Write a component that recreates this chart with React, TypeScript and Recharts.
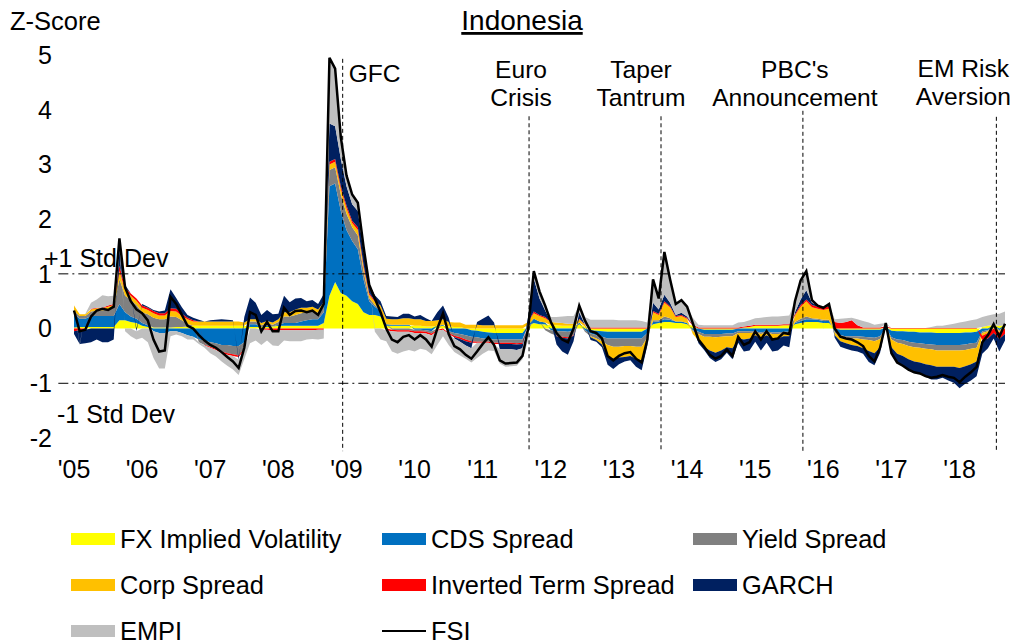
import React from "react";
import { ComposedChart, Area, Line, XAxis, YAxis, ReferenceLine, Legend } from "recharts";

// monthly readings, Jan 2005 .. Sep 2018
const startYear = 2005;

const fsi = [
  0.33, -0.05, -0.02, 0.22, 0.33, 0.36, 0.34, 0.4, 1.65, 0.75, 0.5, 0.35,
  0.28, 0.15, -0.2, -0.42, -0.4, 0.58, 0.45, 0.25, 0.05, 0.0, -0.12, -0.22,
  -0.3, -0.35, -0.43, -0.52, -0.6, -0.72, -0.35, 0.3, 0.25, -0.05, 0.12, -0.05,
  -0.05, 0.38, 0.25, 0.32, 0.33, 0.3, 0.33, 0.25, 0.45, 4.95, 4.75, 3.5,
  2.8, 2.45, 2.3, 1.5, 0.8, 0.55, 0.3, 0.0, -0.2, -0.25, -0.15, -0.12,
  -0.2, -0.12, -0.2, -0.33, 0.0, 0.28, -0.1, -0.32, -0.38, -0.48, -0.55, -0.42,
  -0.28, -0.16, -0.3, -0.58, -0.64, -0.63, -0.62, -0.5, 0.0, 1.05, 0.68, 0.42,
  0.12, -0.08, -0.2, -0.25, 0.0, 0.42, 0.15, -0.05, -0.08, -0.18, -0.5, -0.58,
  -0.5, -0.45, -0.43, -0.55, -0.62, -0.2, 0.9, 0.55, 1.4, 0.9, 0.45, 0.52,
  0.4, 0.1, -0.2, -0.33, -0.48, -0.55, -0.5, -0.38, -0.5, -0.15, -0.3, -0.25,
  -0.05, -0.2, -0.05, -0.2, -0.18, -0.08, -0.1, 0.5, 0.88, 1.05, 0.52, 0.42,
  0.38, 0.45, 0.0, -0.15, -0.18, -0.2, -0.25, -0.32, -0.5, -0.6, -0.35, 0.1,
  -0.45, -0.62, -0.68, -0.75, -0.8, -0.82, -0.87, -0.9, -0.88, -0.85, -0.88, -0.9,
  -0.98, -0.88, -0.8, -0.7, -0.25, -0.12, 0.08, -0.15, 0.09,
];

const fxVol = [
  0.02, 0.03, 0.03, 0.03, 0.03, 0.03, 0.03, 0.03, 0.15, 0.15, 0.12, 0.1,
  0.05, 0.03, 0.02, 0.02, 0.02, 0.02, 0.03, 0.03, 0.04, 0.05, 0.05, 0.05,
  0.05, 0.05, 0.05, 0.05, 0.05, 0.05, 0.05, 0.03, 0.03, 0.03, 0.03, 0.04,
  0.05, 0.05, 0.05, 0.05, 0.05, 0.05, 0.05, 0.05, 0.1, 0.6, 0.85, 0.65,
  0.6, 0.5, 0.45, 0.3, 0.25, 0.25, 0.22, 0.05, 0.05, 0.05, 0.05, 0.05,
  0.05, 0.05, 0.04, 0.04, 0.05, 0.05, 0.04, 0.03, 0.03, 0.0, -0.03, -0.04,
  -0.06, -0.07, -0.08, -0.08, -0.08, -0.08, -0.08, -0.08, 0.05, 0.1, 0.08, 0.08,
  0.06, 0.06, 0.05, 0.05, 0.05, 0.08, 0.04, -0.03, -0.04, -0.05, -0.06, -0.06,
  -0.06, -0.06, -0.06, -0.06, -0.06, 0.0, 0.08, 0.1, 0.12, 0.12, 0.1, 0.1,
  0.08, 0.05, 0.0, -0.02, -0.02, -0.02, -0.02, -0.02, -0.02, 0.0, 0.02, 0.03,
  0.05, 0.05, 0.05, 0.05, 0.05, 0.06, 0.06, 0.08, 0.1, 0.12, 0.12, 0.12,
  0.1, 0.1, 0.0, -0.02, -0.02, -0.02, -0.02, -0.02, -0.02, -0.02, -0.02, 0.02,
  -0.04, -0.05, -0.05, -0.06, -0.06, -0.07, -0.07, -0.07, -0.08, -0.08, -0.08, -0.08,
  -0.08, -0.07, -0.07, -0.06, 0.03, 0.05, 0.06, 0.05, 0.06,
];

const cds = [
  0.25, 0.15, 0.15, 0.2, 0.2, 0.2, 0.2, 0.2, 0.3, 0.15, 0.1, 0.08,
  0.05, 0.03, -0.05, -0.08, -0.08, -0.05, -0.05, -0.08, -0.12, -0.15, -0.2, -0.22,
  -0.25, -0.27, -0.3, -0.3, -0.32, -0.32, -0.25, 0.05, 0.05, 0.0, 0.02, 0.0,
  0.02, 0.05, 0.05, 0.05, 0.08, 0.1, 0.12, 0.12, 0.2, 2.0, 1.8, 1.5,
  1.2, 1.1, 1.0, 0.6, 0.25, 0.15, 0.1, 0.03, 0.02, 0.02, 0.02, 0.02,
  -0.02, -0.02, -0.03, -0.05, 0.0, 0.02, -0.05, -0.08, -0.1, -0.12, -0.12, -0.12,
  -0.12, -0.12, -0.12, -0.12, -0.12, -0.12, -0.12, -0.12, 0.02, 0.08, 0.05, 0.03,
  -0.03, -0.05, -0.05, -0.06, -0.04, 0.03, -0.03, -0.06, -0.08, -0.1, -0.12, -0.12,
  -0.12, -0.12, -0.12, -0.12, -0.12, -0.08, 0.04, 0.03, 0.05, 0.04, 0.03, 0.03,
  0.02, -0.03, -0.06, -0.08, -0.08, -0.08, -0.08, -0.07, -0.07, -0.05, -0.05, -0.05,
  -0.05, -0.07, -0.05, -0.07, -0.07, -0.06, -0.06, 0.02, 0.04, 0.05, 0.05, 0.04,
  0.04, 0.04, -0.05, -0.1, -0.12, -0.12, -0.12, -0.13, -0.14, -0.15, -0.12, 0.0,
  -0.12, -0.15, -0.16, -0.18, -0.2, -0.2, -0.21, -0.22, -0.22, -0.22, -0.22, -0.22,
  -0.22, -0.22, -0.2, -0.2, -0.05, -0.03, 0.0, -0.03, 0.0,
];

const yieldSpread = [
  0.05, 0.05, 0.05, 0.08, 0.1, 0.1, 0.12, 0.15, 0.45, 0.3, 0.3, 0.25,
  0.2, 0.2, 0.18, 0.15, 0.15, 0.2, 0.18, 0.12, 0.05, 0.0, -0.05, -0.08,
  -0.08, -0.1, -0.12, -0.15, -0.15, -0.17, -0.12, 0.05, 0.05, 0.03, 0.05, 0.03,
  0.05, 0.12, 0.12, 0.15, 0.15, 0.15, 0.15, 0.12, 0.12, 0.3, 0.3, 0.3,
  0.3, 0.25, 0.25, 0.15, 0.06, 0.03, 0.02, 0.0, -0.02, -0.03, -0.03, -0.03,
  -0.03, -0.03, -0.03, -0.04, -0.02, 0.0, -0.03, -0.05, -0.06, -0.08, -0.08, -0.08,
  -0.06, -0.05, -0.06, -0.06, -0.06, -0.06, -0.07, -0.06, -0.05, 0.0, 0.0, -0.03,
  -0.06, -0.08, -0.1, -0.1, -0.08, 0.0, -0.03, -0.05, -0.06, -0.08, -0.12, -0.15,
  -0.15, -0.14, -0.14, -0.15, -0.15, -0.08, 0.03, 0.02, 0.05, 0.03, 0.0, 0.0,
  0.0, -0.02, -0.04, -0.05, -0.05, -0.06, -0.05, -0.05, -0.05, -0.03, -0.03, -0.03,
  -0.02, -0.03, -0.02, -0.03, -0.03, -0.03, -0.03, 0.02, 0.04, 0.05, 0.02, 0.02,
  0.02, 0.02, -0.02, -0.03, -0.03, -0.04, -0.04, -0.05, -0.05, -0.06, -0.05, 0.0,
  -0.04, -0.06, -0.07, -0.08, -0.08, -0.08, -0.09, -0.09, -0.1, -0.1, -0.1, -0.1,
  -0.1, -0.1, -0.1, -0.09, -0.03, -0.02, 0.0, -0.02, 0.0,
];

const corpSpread = [
  0.1, 0.03, 0.03, 0.04, 0.04, 0.04, 0.05, 0.05, 0.15, 0.1, 0.08, 0.08,
  0.08, 0.08, 0.08, 0.07, 0.07, 0.1, 0.1, 0.08, 0.08, 0.08, 0.08, 0.08,
  0.08, 0.08, 0.08, 0.08, 0.08, 0.08, 0.06, 0.04, 0.04, 0.04, 0.04, 0.04,
  0.05, 0.08, 0.08, 0.1, 0.1, 0.08, 0.08, 0.06, 0.06, 0.1, 0.1, 0.1,
  0.1, 0.08, 0.1, 0.08, 0.06, 0.06, 0.08, 0.1, 0.1, 0.1, 0.12, 0.12,
  0.12, 0.12, 0.1, 0.1, 0.1, 0.1, 0.08, 0.08, 0.08, 0.07, 0.07, 0.07,
  0.06, 0.06, 0.06, 0.06, 0.06, 0.06, 0.06, 0.06, 0.05, 0.1, 0.1, 0.08,
  0.06, 0.05, 0.05, 0.04, 0.04, 0.06, 0.03, -0.02, -0.03, -0.06, -0.2, -0.22,
  -0.2, -0.2, -0.18, -0.22, -0.25, -0.1, 0.15, 0.1, 0.25, 0.2, 0.08, 0.1,
  0.08, -0.05, -0.12, -0.18, -0.25, -0.28, -0.25, -0.2, -0.22, -0.1, -0.12, -0.1,
  -0.05, -0.08, -0.05, -0.08, -0.08, -0.05, -0.05, 0.12, 0.22, 0.28, 0.2, 0.18,
  0.18, 0.2, -0.05, -0.08, -0.1, -0.12, -0.14, -0.16, -0.2, -0.22, -0.15, 0.0,
  -0.14, -0.2, -0.22, -0.24, -0.26, -0.27, -0.28, -0.29, -0.3, -0.3, -0.3, -0.3,
  -0.32, -0.3, -0.28, -0.25, -0.05, -0.03, 0.0, -0.02, 0.0,
];

const invertedTerm = [
  -0.05, -0.03, -0.02, 0.01, 0.01, 0.01, 0.02, 0.02, 0.1, 0.05, 0.04, 0.04,
  0.04, 0.04, 0.04, 0.04, 0.04, 0.05, 0.05, 0.04, 0.03, 0.02, 0.0, -0.01,
  -0.02, -0.02, -0.03, -0.03, -0.03, -0.03, -0.02, 0.0, 0.0, -0.02, -0.02, -0.03,
  -0.03, -0.03, -0.03, -0.03, -0.03, -0.03, -0.03, -0.02, -0.02, 0.05, 0.05, 0.05,
  0.05, 0.04, 0.05, 0.04, 0.03, 0.02, 0.0, -0.03, -0.03, -0.03, -0.03, -0.03,
  -0.03, -0.03, -0.03, -0.03, -0.02, -0.02, -0.02, -0.03, -0.03, -0.03, -0.03, -0.02,
  -0.02, -0.02, -0.02, -0.02, -0.02, -0.02, -0.02, -0.02, 0.0, 0.03, 0.02, 0.02,
  0.0, -0.01, -0.02, -0.02, -0.01, 0.01, 0.01, 0.02, 0.02, 0.02, 0.02, 0.02,
  0.02, 0.02, 0.02, 0.02, 0.02, 0.02, 0.02, 0.02, 0.03, 0.02, 0.02, 0.02,
  0.02, 0.02, 0.02, 0.02, 0.02, 0.02, 0.02, 0.02, 0.02, 0.02, 0.02, 0.02,
  0.02, 0.02, 0.02, 0.02, 0.02, 0.02, 0.02, 0.02, 0.03, 0.03, 0.04, 0.04,
  0.05, 0.05, 0.12, 0.1, 0.12, 0.15, 0.06, 0.02, 0.02, 0.02, 0.02, 0.02,
  0.01, 0.01, 0.01, 0.01, 0.01, 0.01, 0.01, 0.01, 0.01, 0.01, 0.01, 0.01,
  0.01, 0.01, 0.01, 0.01, -0.08, -0.1, -0.08, -0.12, -0.1,
];

const garch = [
  -0.05, -0.25, -0.25, -0.25, -0.2, -0.25, -0.25, -0.2, 0.3, 0.05, 0.0, -0.05,
  0.03, 0.02, 0.02, 0.03, 0.05, 0.35, 0.2, 0.12, 0.05, 0.05, 0.03, 0.0,
  0.02, 0.03, 0.04, 0.03, 0.02, -0.05, 0.1, 0.4, 0.3, 0.15, 0.2, 0.15,
  0.1, 0.3, 0.18, 0.2, 0.18, 0.12, 0.12, 0.1, 0.15, 0.7, 0.6, 0.5,
  0.35, 0.3, 0.3, 0.25, 0.15, 0.1, 0.08, 0.05, 0.05, 0.04, 0.08, 0.08,
  0.05, 0.08, 0.05, 0.0, 0.15, 0.25, 0.08, -0.02, -0.05, -0.08, -0.1, 0.05,
  0.12, 0.18, 0.05, -0.1, -0.1, -0.1, -0.1, -0.08, 0.1, 0.6, 0.3, 0.12,
  0.0, -0.15, -0.25, -0.3, -0.1, 0.12, 0.0, -0.05, -0.03, -0.05, -0.16, -0.19,
  -0.12, -0.08, -0.08, -0.15, -0.18, -0.05, 0.15, 0.08, 0.12, 0.06, 0.02, 0.04,
  0.02, 0.0, -0.05, -0.06, -0.14, -0.17, -0.16, -0.1, -0.2, -0.08, -0.22, -0.22,
  -0.12, -0.22, -0.14, -0.24, -0.22, -0.17, -0.2, 0.04, 0.1, 0.17, 0.04, 0.02,
  0.0, 0.04, -0.05, -0.1, -0.1, -0.1, -0.1, -0.1, -0.2, -0.22, -0.1, 0.04,
  -0.12, -0.17, -0.19, -0.2, -0.21, -0.21, -0.23, -0.26, -0.23, -0.2, -0.25, -0.29,
  -0.37, -0.32, -0.3, -0.27, -0.25, -0.18, -0.1, -0.23, -0.12,
];

const empi = [
  0.01, -0.03, 0.01, 0.11, 0.15, 0.23, 0.17, 0.15, 0.2, -0.05, -0.14, -0.15,
  -0.17, -0.25, -0.49, -0.65, -0.65, -0.09, -0.06, -0.06, -0.08, -0.05, -0.03, -0.04,
  -0.1, -0.12, -0.15, -0.2, -0.25, -0.28, -0.17, -0.27, -0.22, -0.28, -0.2, -0.28,
  -0.29, -0.19, -0.2, -0.2, -0.2, -0.17, -0.16, -0.18, -0.16, 1.2, 1.05, 0.4,
  0.2, 0.18, 0.15, 0.08, 0.0, -0.06, -0.2, -0.2, -0.37, -0.4, -0.36, -0.33,
  -0.34, -0.29, -0.3, -0.35, -0.26, -0.12, -0.2, -0.25, -0.25, -0.24, -0.26, -0.28,
  -0.2, -0.14, -0.13, -0.26, -0.32, -0.31, -0.29, -0.2, -0.17, 0.14, 0.13, 0.12,
  0.09, 0.1, 0.12, 0.14, 0.14, 0.12, 0.13, 0.14, 0.14, 0.14, 0.14, 0.14,
  0.13, 0.13, 0.13, 0.13, 0.12, 0.09, 0.43, 0.2, 0.78, 0.43, 0.2, 0.23,
  0.18, 0.13, 0.05, 0.04, 0.04, 0.04, 0.04, 0.04, 0.04, 0.09, 0.08, 0.1,
  0.12, 0.13, 0.14, 0.15, 0.15, 0.15, 0.16, 0.2, 0.35, 0.35, 0.05, 0.0,
  -0.01, 0.0, 0.05, 0.08, 0.07, 0.05, 0.11, 0.12, 0.09, 0.05, 0.07, 0.02,
  0.0, 0.0, 0.0, 0.0, 0.0, 0.0, 0.0, 0.02, 0.04, 0.04, 0.06, 0.08,
  0.1, 0.12, 0.14, 0.16, 0.18, 0.19, 0.2, 0.22, 0.25,
];

const yearTicks = [2005, 2006, 2007, 2008, 2009, 2010, 2011, 2012, 2013, 2014, 2015, 2016, 2017, 2018];
const zTicks = [-2, -1, 0, 1, 2, 3, 4, 5];

const events = [
  { date: 2008.944, top: 4.93, lines: ["GFC"] },
  { date: 2011.68, top: 3.88, lines: ["Euro", "Crisis"] },
  { date: 2013.617, top: 3.88, lines: ["Taper", "Tantrum"] },
  { date: 2015.7, top: 3.98, lines: ["PBC's", "Announcement"] },
  { date: 2018.54, top: 3.87, lines: ["EM Risk", "Aversion"] },
];
// label placement relative to each dashed line (px)
const eventLabelStyle = [
  { dx: 6, anchor: "start", y0: 82 },
  { dx: -8, anchor: "middle", y0: 78 },
  { dx: -20, anchor: "middle", y0: 78 },
  { dx: -8, anchor: "middle", y0: 78 },
  { dx: -33, anchor: "middle", y0: 77 },
];

const series = [
  { key: "fx", name: "FX Implied Volatility", color: "#FFFF00", values: fxVol },
  { key: "cds", name: "CDS Spread", color: "#0070C0", values: cds },
  { key: "yld", name: "Yield Spread", color: "#808080", values: yieldSpread },
  { key: "corp", name: "Corp Spread", color: "#FFC000", values: corpSpread },
  { key: "inv", name: "Inverted Term Spread", color: "#FF0000", values: invertedTerm },
  { key: "garch", name: "GARCH", color: "#002060", values: garch },
  { key: "empi", name: "EMPI", color: "#BFBFBF", values: empi },
];

const data = fsi.map((v, i) => {
  const row: Record<string, number> = { t: startYear + i / 12, fsi: v };
  series.forEach((s) => {
    row[s.key] = s.values[i];
  });
  return row;
});

const FONT = '"Liberation Sans", Arial, sans-serif';
const xEnd = startYear + (fsi.length - 1) / 12;

function EventLabel(props: any) {
  const { viewBox, lines, dx, anchor, y0 } = props;
  const x = viewBox.x + dx;
  return (
    <text x={x} y={y0} textAnchor={anchor} fontSize={24.6} fontFamily={FONT} fill="#000">
      {lines.map((l: string, i: number) => (
        <tspan key={l} x={x} y={y0 + i * 28}>
          {l}
        </tspan>
      ))}
    </text>
  );
}

function LegendBox() {
  const colX = [71, 382, 693];
  const rowY = [533, 579, 625];
  const top = 515;
  const items = [...series.map((s) => ({ name: s.name, color: s.color, line: false })), { name: "FSI", color: "#000", line: true }];
  return (
    <svg width={1017} height={128} style={{ display: "block" }}>
      {items.map((it, i) => {
        const x = colX[i % 3];
        const y = rowY[Math.floor(i / 3)] - top;
        return (
          <g key={it.name}>
            {it.line ? (
              <line x1={x} x2={x + 44} y1={y + 6} y2={y + 6} stroke={it.color} strokeWidth={2} />
            ) : (
              <rect x={x} y={y} width={44} height={12} fill={it.color} />
            )}
            <text x={x + 49} y={y + 15} fontSize={25.4} fontFamily={FONT} fill="#000">
              {it.name}
            </text>
          </g>
        );
      })}
    </svg>
  );
}

export default function App() {
  return (
    <div style={{ position: "absolute", left: 0, top: 0, width: 1017, height: 643, background: "#fff", fontFamily: FONT }}>
      <ComposedChart
        width={1017}
        height={643}
        data={data}
        stackOffset="sign"
        margin={{ top: 55, right: 12, bottom: 165, left: 0 }}
      >
        <XAxis
          dataKey="t"
          type="number"
          domain={[startYear, xEnd]}
          ticks={yearTicks}
          interval={0}
          tickFormatter={(v: number) => "'" + String(v).slice(2)}
          axisLine={false}
          tickLine={false}
          tickSize={0}
          tickMargin={22}
          height={40}
          tick={{ fill: "#000", fontSize: 25, fontFamily: FONT }}
        />
        <YAxis
          type="number"
          domain={[-2, 5]}
          ticks={zTicks}
          interval={0}
          axisLine={false}
          tickLine={false}
          tickSize={0}
          tickMargin={22}
          width={74}
          tick={{ fill: "#000", fontSize: 25, fontFamily: FONT }}
        />
        {series.map((s) => (
          <Area
            key={s.key}
            dataKey={s.key}
            name={s.name}
            stackId="z"
            type="linear"
            stroke="none"
            fill={s.color}
            fillOpacity={1}
            isAnimationActive={false}
          />
        ))}
        {[1, -1].map((lvl) => (
          <ReferenceLine
            key={lvl}
            segment={[{ x: 2004.77, y: lvl }, { x: xEnd, y: lvl }]}
            ifOverflow="visible"
            stroke="#000"
            strokeWidth={1}
            strokeDasharray="10 4 2 4"
          />
        ))}
        {events.map((e, i) => (
          <ReferenceLine
            key={e.date}
            segment={[{ x: e.date, y: e.top }, { x: e.date, y: -2.24 }]}
            ifOverflow="visible"
            stroke="#000"
            strokeWidth={1}
            strokeDasharray="4 3"
            label={<EventLabel lines={e.lines} {...eventLabelStyle[i]} />}
          />
        ))}
        <Line
          dataKey="fsi"
          name="FSI"
          type="linear"
          stroke="#000"
          strokeWidth={2.5}
          dot={false}
          isAnimationActive={false}
        />
        <Legend
          layout="vertical"
          align="center"
          verticalAlign="middle"
          wrapperStyle={{ position: "absolute", left: 0, top: 515, width: 1017, height: 128 }}
          content={() => <LegendBox />}
        />
      </ComposedChart>
      <svg
        width={1017}
        height={643}
        style={{ position: "absolute", left: 0, top: 0, pointerEvents: "none" }}
      >
        <text x={10} y={30} fontSize={25.5} fontFamily={FONT} fill="#000">
          Z-Score
        </text>
        <text x={522} y={30} fontSize={28} fontFamily={FONT} fill="#000" textAnchor="middle" style={{ textDecoration: "underline" }}>
          Indonesia
        </text>
        <text x={44} y={267} fontSize={25} fontFamily={FONT} fill="#000">
          +1 Std Dev
        </text>
        <text x={57} y={423} fontSize={25} fontFamily={FONT} fill="#000">
          -1 Std Dev
        </text>
      </svg>
    </div>
  );
}
